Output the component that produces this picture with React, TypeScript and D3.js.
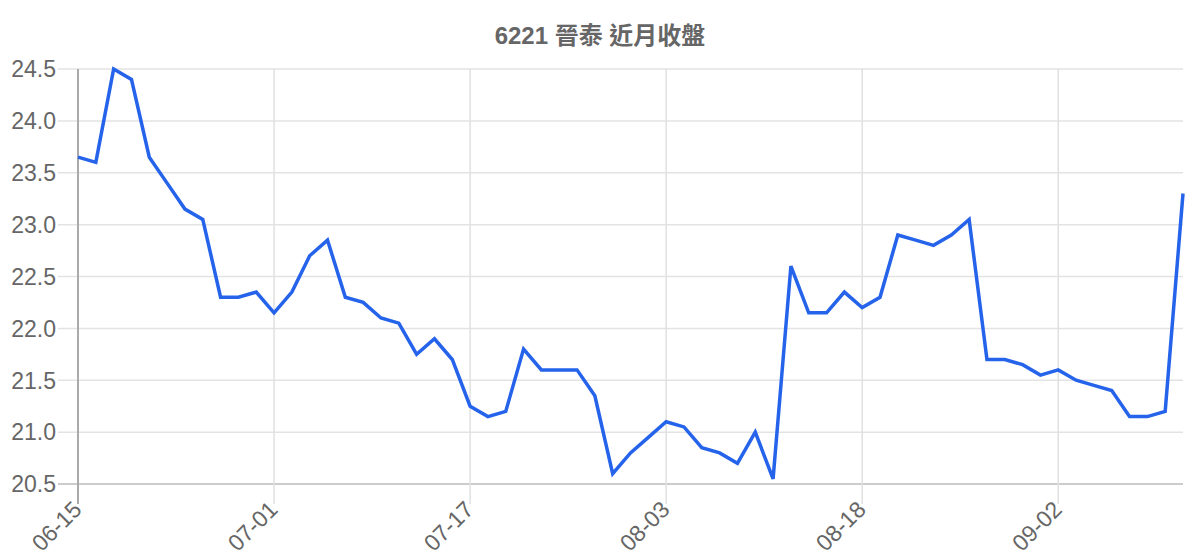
import { useRef, useEffect } from 'react';
import * as d3 from 'd3';

// trading days shown on the category axis
const dates = [
  '06-15', '06-16', '06-17', '06-20', '06-21', '06-22', '06-23', '06-24', '06-27', '06-28', '06-29',
  '07-01', '07-04', '07-05', '07-06', '07-07', '07-08', '07-11', '07-12', '07-13', '07-14', '07-15',
  '07-17', '07-18', '07-19', '07-20', '07-21', '07-24', '07-25', '07-26', '07-27', '07-28', '08-01',
  '08-03', '08-04', '08-07', '08-08', '08-09', '08-10', '08-11', '08-14', '08-15', '08-16', '08-17',
  '08-18', '08-21', '08-22', '08-23', '08-24', '08-25', '08-28', '08-29', '08-30', '08-31', '09-01',
  '09-02', '09-04', '09-05', '09-06', '09-07', '09-08', '09-11', '09-12',
];

const closes = [
  23.65, 23.6, 24.5, 24.4, 23.65, 23.4, 23.15, 23.05, 22.3, 22.3, 22.35,
  22.15, 22.35, 22.7, 22.85, 22.3, 22.25, 22.1, 22.05, 21.75, 21.9, 21.7,
  21.25, 21.15, 21.2, 21.8, 21.6, 21.6, 21.6, 21.35, 20.6, 20.8, 20.95,
  21.1, 21.05, 20.85, 20.8, 20.7, 21.0, 20.55, 22.6, 22.15, 22.15, 22.35,
  22.2, 22.3, 22.9, 22.85, 22.8, 22.9, 23.05, 21.7, 21.7, 21.65, 21.55,
  21.6, 21.5, 21.45, 21.4, 21.15, 21.15, 21.2, 23.3,
];

const yTicks = [20.5, 21.0, 21.5, 22.0, 22.5, 23.0, 23.5, 24.0, 24.5];
const xTickEvery = 11;

const title = '6221 晉泰 近月收盤';
const font = '"Liberation Sans", Arial, "Noto Sans CJK TC", sans-serif';

export default function App() {
  const ref = useRef<SVGSVGElement>(null);
  const width = 1200;
  const height = 560;
  const margin = { top: 69, right: 17, bottom: 76, left: 78 };

  useEffect(() => {
    if (!ref.current) return;
    const svg = d3.select(ref.current);
    svg.selectAll('*').remove();

    const x = d3
      .scalePoint<string>()
      .domain(dates)
      .range([margin.left, width - margin.right]);

    const y = d3
      .scaleLinear()
      .domain([20.5, 24.5])
      .range([height - margin.bottom, margin.top]);

    const xTicks = dates.filter((_, i) => i % xTickEvery === 0);
    const bottom = height - margin.bottom;

    // horizontal grid + y labels
    const gy = svg.append('g');
    gy.selectAll('line')
      .data(yTicks)
      .enter()
      .append('line')
      .attr('x1', margin.left - 20)
      .attr('x2', width - margin.right)
      .attr('y1', (d) => y(d))
      .attr('y2', (d) => y(d))
      .attr('stroke', (d) => (d === 20.5 ? '#cccccc' : '#e3e3e3'))
      .attr('stroke-width', (d) => (d === 20.5 ? 2 : 1.5));
    gy.selectAll('text')
      .data(yTicks)
      .enter()
      .append('text')
      .attr('x', margin.left - 22)
      .attr('y', (d) => y(d))
      .attr('dy', '0.36em')
      .attr('text-anchor', 'end')
      .style('font-family', font)
      .style('font-size', '23px')
      .attr('fill', '#666666')
      .text((d) => d3.format('.1f')(d));

    // vertical grid + x labels
    const gx = svg.append('g');
    gx.selectAll('line')
      .data(xTicks)
      .enter()
      .append('line')
      .attr('x1', (d) => x(d)!)
      .attr('x2', (d) => x(d)!)
      .attr('y1', margin.top)
      .attr('y2', bottom + 20)
      .attr('stroke', (d, i) => (i === 0 ? '#aaaaaa' : '#e0e0e0'))
      .attr('stroke-width', (d, i) => (i === 0 ? 2 : 1.5));
    gx.selectAll('text')
      .data(xTicks)
      .enter()
      .append('text')
      .attr('transform', (d) => `translate(${x(d)! + 5},${bottom + 27}) rotate(-45)`)
      .attr('text-anchor', 'end')
      .style('font-family', font)
      .style('font-size', '23px')
      .attr('fill', '#666666')
      .text((d) => d);

    // close line
    const line = d3
      .line<number>()
      .x((_, i) => x(dates[i])!)
      .y((d) => y(d));

    svg
      .append('path')
      .datum(closes)
      .attr('fill', 'none')
      .attr('stroke', '#2563eb')
      .attr('stroke-width', 3.5)
      .attr('stroke-linejoin', 'miter')
      .attr('d', line);

    svg
      .append('text')
      .attr('x', width / 2)
      .attr('y', 44)
      .attr('text-anchor', 'middle')
      .style('font-family', font)
      .style('font-size', '24px')
      .style('font-weight', 'bold')
      .attr('fill', '#666666')
      .text(title);
  }, []);

  return (
    <svg
      ref={ref}
      width={width}
      height={height}
      style={{ position: 'absolute', left: 0, top: 0, background: '#fff' }}
    />
  );
}
